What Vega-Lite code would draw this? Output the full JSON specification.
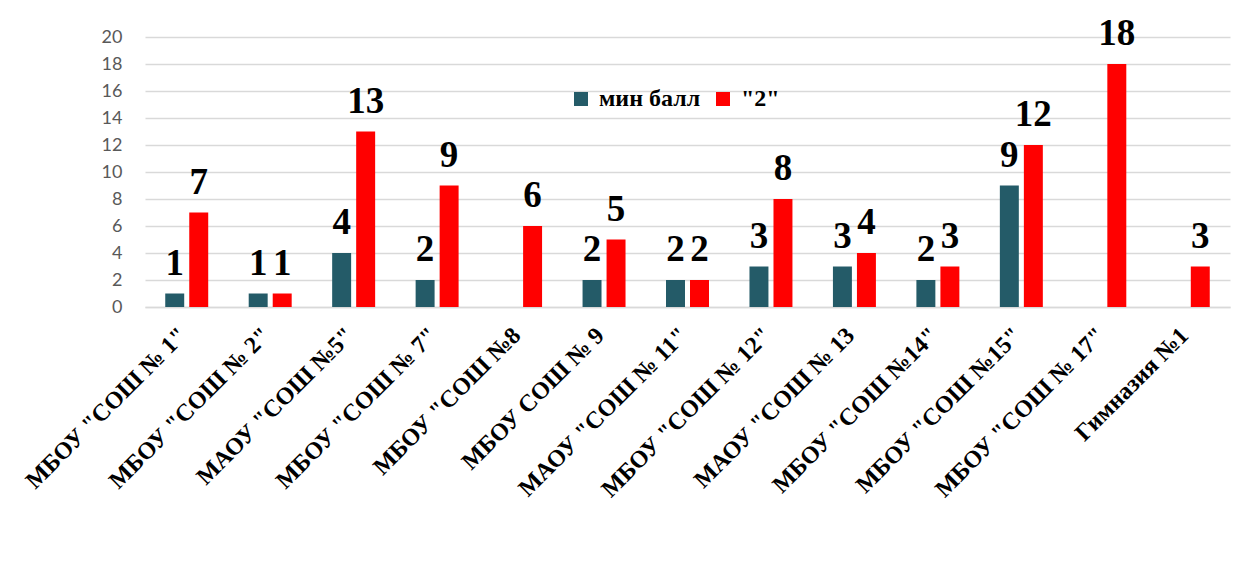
{
  "$schema": "https://vega.github.io/schema/vega-lite/v6.json",
  "autosize": {"type": "none"},
  "width": 1085,
  "height": 270,
  "padding": {"left": 145, "top": 37, "right": 18, "bottom": 270},
  "background": "white",
  "data": {
    "values": [
      {"school": "МБОУ \"СОШ № 1\"", "series": "мин балл", "value": 1},
      {"school": "МБОУ \"СОШ № 1\"", "series": "\"2\"", "value": 7},
      {"school": "МБОУ \"СОШ № 2\"", "series": "мин балл", "value": 1},
      {"school": "МБОУ \"СОШ № 2\"", "series": "\"2\"", "value": 1},
      {"school": "МАОУ \"СОШ №5\"", "series": "мин балл", "value": 4},
      {"school": "МАОУ \"СОШ №5\"", "series": "\"2\"", "value": 13},
      {"school": "МБОУ \"СОШ № 7\"", "series": "мин балл", "value": 2},
      {"school": "МБОУ \"СОШ № 7\"", "series": "\"2\"", "value": 9},
      {"school": "МБОУ \"СОШ №8", "series": "\"2\"", "value": 6},
      {"school": "МБОУ СОШ № 9", "series": "мин балл", "value": 2},
      {"school": "МБОУ СОШ № 9", "series": "\"2\"", "value": 5},
      {"school": "МАОУ \"СОШ № 11\"", "series": "мин балл", "value": 2},
      {"school": "МАОУ \"СОШ № 11\"", "series": "\"2\"", "value": 2},
      {"school": "МБОУ \"СОШ № 12\"", "series": "мин балл", "value": 3},
      {"school": "МБОУ \"СОШ № 12\"", "series": "\"2\"", "value": 8},
      {"school": "МАОУ \"СОШ № 13", "series": "мин балл", "value": 3},
      {"school": "МАОУ \"СОШ № 13", "series": "\"2\"", "value": 4},
      {"school": "МБОУ \"СОШ №14\"", "series": "мин балл", "value": 2},
      {"school": "МБОУ \"СОШ №14\"", "series": "\"2\"", "value": 3},
      {"school": "МБОУ \"СОШ №15\"", "series": "мин балл", "value": 9},
      {"school": "МБОУ \"СОШ №15\"", "series": "\"2\"", "value": 12},
      {"school": "МБОУ \"СОШ № 17\"", "series": "\"2\"", "value": 18},
      {"school": "Гимназия №1", "series": "\"2\"", "value": 3}
    ]
  },
  "encoding": {
    "x": {
      "field": "school",
      "type": "nominal",
      "sort": ["МБОУ \"СОШ № 1\"", "МБОУ \"СОШ № 2\"", "МАОУ \"СОШ №5\"", "МБОУ \"СОШ № 7\"", "МБОУ \"СОШ №8", "МБОУ СОШ № 9", "МАОУ \"СОШ № 11\"", "МБОУ \"СОШ № 12\"", "МАОУ \"СОШ № 13", "МБОУ \"СОШ №14\"", "МБОУ \"СОШ №15\"", "МБОУ \"СОШ № 17\"", "Гимназия №1"],
      "scale": {"paddingInner": 0.485, "paddingOuter": 0.2425},
      "axis": {
        "title": null,
        "labelAngle": -45,
        "labelFont": "Liberation Serif, Times New Roman, DejaVu Serif, serif",
        "labelFontWeight": "bold",
        "labelFontSize": 24,
        "labelColor": "#000000",
        "labelPadding": 16,
        "labelOffset": -12,
        "labelLimit": 0,
        "ticks": false,
        "grid": false,
        "domainColor": "#D9D9D9",
        "domainWidth": 1.5
      }
    },
    "xOffset": {
      "field": "series",
      "type": "nominal",
      "scale": {"domain": ["мин балл", "\"2\""], "paddingInner": 0.21, "paddingOuter": 0}
    },
    "y": {
      "field": "value",
      "type": "quantitative",
      "scale": {"domain": [0, 20]},
      "axis": {
        "title": null,
        "values": [0, 2, 4, 6, 8, 10, 12, 14, 16, 18, 20],
        "domain": false,
        "ticks": false,
        "grid": true,
        "gridColor": "#D9D9D9",
        "gridWidth": 1.5,
        "labelFont": "Lato",
        "labelFontSize": 18,
        "labelColor": "#595959",
        "labelPadding": 23
      }
    }
  },
  "layer": [
    {
      "mark": {"type": "bar"},
      "encoding": {
        "color": {
          "field": "series",
          "type": "nominal",
          "scale": {"domain": ["мин балл", "\"2\""], "range": ["#245B68", "#FF0000"]},
          "legend": {
            "title": null,
            "orient": "none",
            "legendX": 424,
            "legendY": 50,
            "direction": "horizontal",
            "symbolType": "square",
            "symbolSize": 196,
            "symbolStrokeWidth": 0,
            "labelFont": "Liberation Serif, Times New Roman, DejaVu Serif, serif",
            "labelFontWeight": "bold",
            "labelFontSize": 24,
            "labelColor": "#000000",
            "columnPadding": 10,
            "labelOffset": 6,
            "padding": 0
          }
        }
      }
    },
    {
      "mark": {
        "type": "text",
        "font": "Liberation Serif, Times New Roman, DejaVu Serif, serif",
        "fontWeight": "bold",
        "fontSize": 37,
        "baseline": "alphabetic",
        "dy": -19,
        "color": "#000000"
      },
      "encoding": {
        "text": {"field": "value", "type": "quantitative"}
      }
    }
  ],
  "config": {"view": {"stroke": null}}
}
